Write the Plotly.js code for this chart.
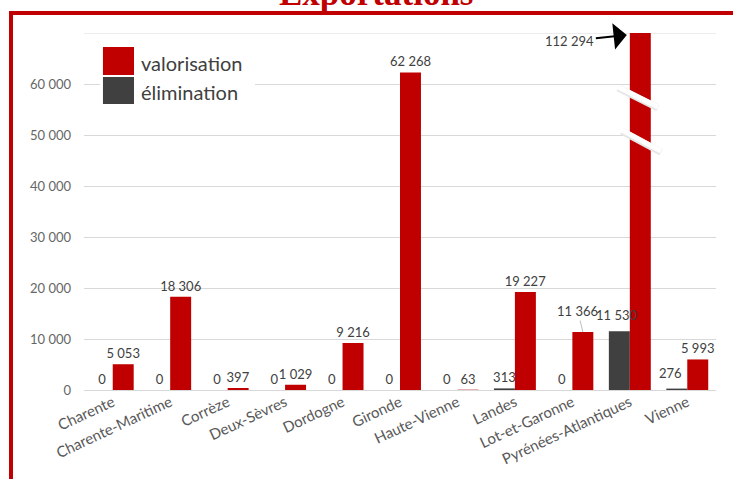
<!DOCTYPE html>
<html>
<head>
<meta charset="utf-8">
<script src="https://cdn.plot.ly/plotly-3.0.1.min.js"></script>
<style>html,body{margin:0;padding:0;background:#fff;}#chart{width:733px;height:479px;}</style>
</head>
<body>
<div id="chart"></div>
<script>
const categories = ['Charente','Charente-Maritime','Corrèze','Deux-Sèvres','Dordogne','Gironde','Haute-Vienne','Landes','Lot-et-Garonne','Pyrénées-Atlantiques','Vienne'];
const elimination = [0, 0, 0, 0, 0, 0, 0, 313, 0, 11530, 276];
const valorisation = [5053, 18306, 397, 1029, 9216, 62268, 63, 19227, 11366, 112294, 5993];
const yTickVals = [0, 10000, 20000, 30000, 40000, 50000, 60000];
const seriesNames = ['valorisation', 'élimination'];
const titleText = 'Exportations';

function fmt(v){ return String(v).replace(/\B(?=(\d{3})+(?!\d))/g, ' '); }

const RED = '#C00000', GREY = '#404040';
const labelFont = {family: 'Lato, "Open Sans", sans-serif', size: 13, color: '#404040'};

// some labels are drawn as annotations (moved, or on top of the neighbouring bar)
const valText = valorisation.map((v, i) => (i === 8 || i === 9) ? '' : fmt(v));
const elimText = elimination.map((v, i) => (i === 9 || i === 10) ? '' : fmt(v));

const traces = [
  {type: 'bar', name: seriesNames[1], x: categories, y: elimination, marker: {color: GREY},
   text: elimText, textposition: 'outside', textfont: labelFont, cliponaxis: false, constraintext: 'none', hoverinfo: 'x+y'},
  {type: 'bar', name: seriesNames[0], x: categories, y: valorisation, marker: {color: RED},
   text: valText, textposition: 'outside', textfont: labelFont, cliponaxis: true, constraintext: 'none', hoverinfo: 'x+y'}
];

const annotations = [
  {xref: 'paper', yref: 'paper', x: 0.462, y: 1.0515, xanchor: 'center', yanchor: 'bottom', showarrow: false,
   text: titleText, font: {family: '"Liberation Serif", "Times New Roman", serif', size: 35, color: RED, weight: 'bold'}},
  {xref: 'paper', yref: 'paper', x: 0.087, y: 0.916, xanchor: 'left', yanchor: 'middle', showarrow: false,
   text: seriesNames[0], font: {family: 'Lato, sans-serif', size: 20, color: '#404040'}},
  {xref: 'paper', yref: 'paper', x: 0.087, y: 0.8347, xanchor: 'left', yanchor: 'middle', showarrow: false,
   text: seriesNames[1], font: {family: 'Lato, sans-serif', size: 20, color: '#404040'}},
  {x: categories[9], y: 70000, xshift: -3, yshift: -2, text: fmt(valorisation[9]), showarrow: true, ax: -57, ay: 6,
   arrowhead: 1, arrowsize: 2.2, arrowwidth: 2, arrowcolor: '#000', font: labelFont},
  {x: categories[8], y: valorisation[8], xshift: 10.5, text: fmt(valorisation[8]), showarrow: true, ax: -5, ay: -21,
   arrowhead: 0, arrowwidth: 1, arrowcolor: '#bfbfbf', font: labelFont},
  {x: categories[9], y: elimination[9], xshift: -13, yshift: 6, yanchor: 'bottom', showarrow: false,
   text: fmt(elimination[9]), font: labelFont},
  {x: categories[10], y: elimination[10], xshift: -17, yshift: 6, yanchor: 'bottom', showarrow: false,
   text: fmt(elimination[10]), font: labelFont}
];

const shapes = [
  // 70 000 top gridline
  {type: 'line', xref: 'paper', yref: 'y', x0: 0, x1: 1, y0: 70000, y1: 70000, line: {color: '#d9d9d9', width: 1}, layer: 'below'},
  // legend box
  {type: 'rect', xref: 'paper', yref: 'paper', x0: 0.0253, x1: 0.2706, y0: 0.776, y1: 0.975, fillcolor: '#fff', line: {width: 0}, layer: 'above'},
  {type: 'rect', xref: 'paper', yref: 'paper', x0: 0.030, x1: 0.0791, y0: 0.8824, y1: 0.9608, fillcolor: RED, line: {width: 0}, layer: 'above'},
  {type: 'rect', xref: 'paper', yref: 'paper', x0: 0.030, x1: 0.0791, y0: 0.8011, y1: 0.8768, fillcolor: GREY, line: {width: 0}, layer: 'above'},
  // axis break marks (faint shadow + white stroke)
  {type: 'line', xref: 'paper', yref: 'paper', x0: 0.845, x1: 0.908, y0: 0.846, y1: 0.790, line: {color: '#e6e6e6', width: 7}, layer: 'above'},
  {type: 'line', xref: 'paper', yref: 'paper', x0: 0.851, x1: 0.913, y0: 0.725, y1: 0.666, line: {color: '#e6e6e6', width: 7}, layer: 'above'},
  {type: 'line', xref: 'paper', yref: 'paper', x0: 0.845, x1: 0.908, y0: 0.849, y1: 0.793, line: {color: '#fff', width: 5}, layer: 'above'},
  {type: 'line', xref: 'paper', yref: 'paper', x0: 0.851, x1: 0.913, y0: 0.728, y1: 0.669, line: {color: '#fff', width: 5}, layer: 'above'},
  // red frame
  {type: 'line', xref: 'paper', yref: 'paper', x0: -0.1187, x1: 1.03, y0: 1.056, y1: 1.056, line: {color: RED, width: 4}, layer: 'above'},
  {type: 'line', xref: 'paper', yref: 'paper', x0: -0.1155, x1: -0.1155, y0: 1.061, y1: -0.27, line: {color: RED, width: 4}, layer: 'above'}
];

const layout = {
  width: 733, height: 479,
  margin: {l: 84, r: 17, t: 33, b: 89, pad: 0},
  paper_bgcolor: '#fff', plot_bgcolor: '#fff',
  showlegend: false,
  barmode: 'group', bargap: 0.27, bargroupgap: 0,
  separators: ', ',
  font: {family: 'Lato, sans-serif', color: '#595959'},
  xaxis: {type: 'category', tickangle: -25, tickfont: {family: 'Lato, sans-serif', size: 15, color: '#595959'},
          showgrid: false, zeroline: false, showline: false, ticks: '', fixedrange: true},
  yaxis: {range: [0, 70000], tickvals: yTickVals, ticktext: yTickVals.map(fmt), showgrid: true, gridcolor: '#d9d9d9',
          zeroline: true, zerolinecolor: '#d9d9d9', zerolinewidth: 1, showline: false, ticks: '', ticklabelstandoff: 12,
          tickfont: {family: 'Lato, sans-serif', size: 13, color: '#666'}, fixedrange: true},
  annotations: annotations,
  shapes: shapes
};

Plotly.newPlot('chart', traces, layout, {displayModeBar: false, staticPlot: true});
</script>
</body>
</html>
